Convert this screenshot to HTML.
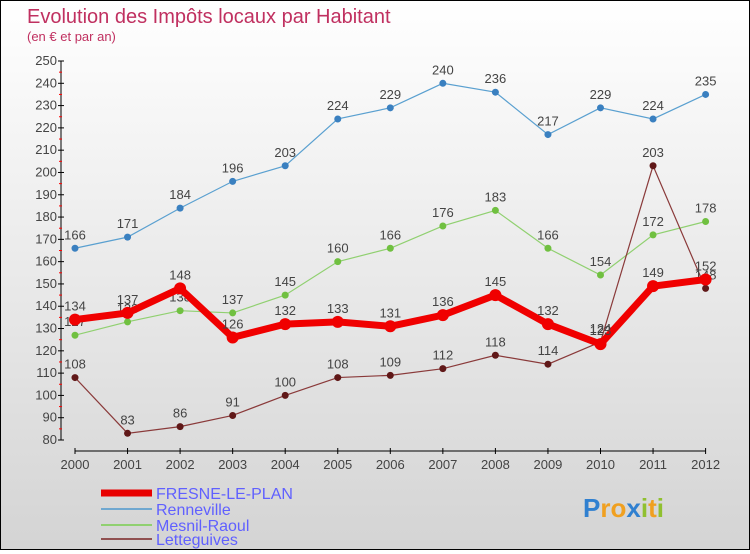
<!DOCTYPE html>
<html><head><meta charset="utf-8"><style>
body{margin:0}
#c{width:748px;height:548px;border:1px solid #000;background:linear-gradient(#fff,#d4d4d4);position:relative;font-family:"Liberation Sans",sans-serif}
</style></head><body>
<div id="c">
<svg id="s" width="748" height="548" style="font-family:'Liberation Sans',sans-serif"></svg>
</div>
<script>
const years=["2000","2001","2002","2003","2004","2005","2006","2007","2008","2009","2010","2011","2012"];
const fresne=[134,137,148,126,132,133,131,136,145,132,123,149,152];
const renneville=[166,171,184,196,203,224,229,240,236,217,229,224,235];
const mesnil=[127,133,138,137,145,160,166,176,183,166,154,172,178];
const lette=[108,83,86,91,100,108,109,112,118,114,124,203,148];
const yTicks=[80,90,100,110,120,130,140,150,160,170,180,190,200,210,220,230,240,250];
const NS="http://www.w3.org/2000/svg",s=document.getElementById('s');
const X=i=>74+i*52.55, Y=v=>439-(v-80)*(379/170);
function el(t,a,p){const e=document.createElementNS(NS,t);for(const k in a)e.setAttribute(k,a[k]);(p||s).appendChild(e);return e;}
function tx(x,y,str,a,p){const e=el('text',Object.assign({x:x,y:y},a),p);e.textContent=str;return e;}
let t=tx(26,22,"Evolution des Impôts locaux par Habitant",{fill:"#c03060","font-size":"20"});

t=tx(26,40,"(en € et par an)",{fill:"#c03060","font-size":"13"});

let ax=el('g',{});
el('line',{x1:60,y1:Y(250),x2:60,y2:Y(80),stroke:"#000"},ax);
yTicks.forEach(v=>{el('line',{x1:57,x2:63,y1:Y(v),y2:Y(v),stroke:"#000"},ax);
 if(v<250)el('line',{x1:58,x2:61,y1:Y(v+5),y2:Y(v+5),stroke:"#f00"},ax);
 tx(56,Y(v)+4,v,{"font-size":"13",fill:"#444","text-anchor":"end"},ax);});
let xa=el('g',{});
el('line',{x1:74,y1:450,x2:X(12),y2:450,stroke:"#000"},xa);
years.forEach((y,i)=>{el('line',{x1:X(i),x2:X(i),y1:447,y2:453,stroke:"#000"},xa);
 tx(X(i),468,y,{"font-size":"13",fill:"#444","text-anchor":"middle"},xa);});
function series(d,col,dot,w,r,name){
 const g=el('g',{});
 el('polyline',{points:d.map((v,i)=>X(i)+","+Y(v)).join(" "),fill:"none",stroke:col,"stroke-width":w},g);
 d.forEach((v,i)=>{const c=el('circle',{cx:X(i),cy:Y(v),r:r,fill:dot},g);
  tx(X(i),Y(v)-9,v,{"font-size":"13",fill:"#444","text-anchor":"middle"},g);});
}
series(renneville,"#5aa0d0","#3a80c0",1.2,3.5,"renneville-series");
series(mesnil,"#90d070","#70c040",1.2,3.5,"mesnil-raoul-series");
series(lette,"#8a3a3a","#601818",1.2,3.5,"letteguives-series");
series(fresne,"#f00000","#f00000",7,6,"fresne-le-plan-series");
const leg=[["FRESNE-LE-PLAN","#e80000",7],["Renneville","#70a8d0",2],["Mesnil-Raoul","#90d070",2],["Letteguives","#905050",2]];
const ly=[492,508,524,538];
leg.forEach((l,i)=>{const g=el('g',{});
 el('line',{x1:100,x2:151,y1:ly[i],y2:ly[i],stroke:l[1],"stroke-width":l[2]},g);
 tx(155,ly[i]+6,l[0],{"font-size":"16",fill:"#6060ff"},g);});
t=tx(582,516,"",{"font-size":"26","font-weight":"bold"});

[["P","#3080d0"],["r","#f0a020"],["o","#f0a020"],["x","#3080d0"],["i","#90c030"],["t","#f0a020"],["i","#90c030"]].forEach(p=>{const ts=el('tspan',{fill:p[1]},t);ts.textContent=p[0];});
</script>
</body></html>
